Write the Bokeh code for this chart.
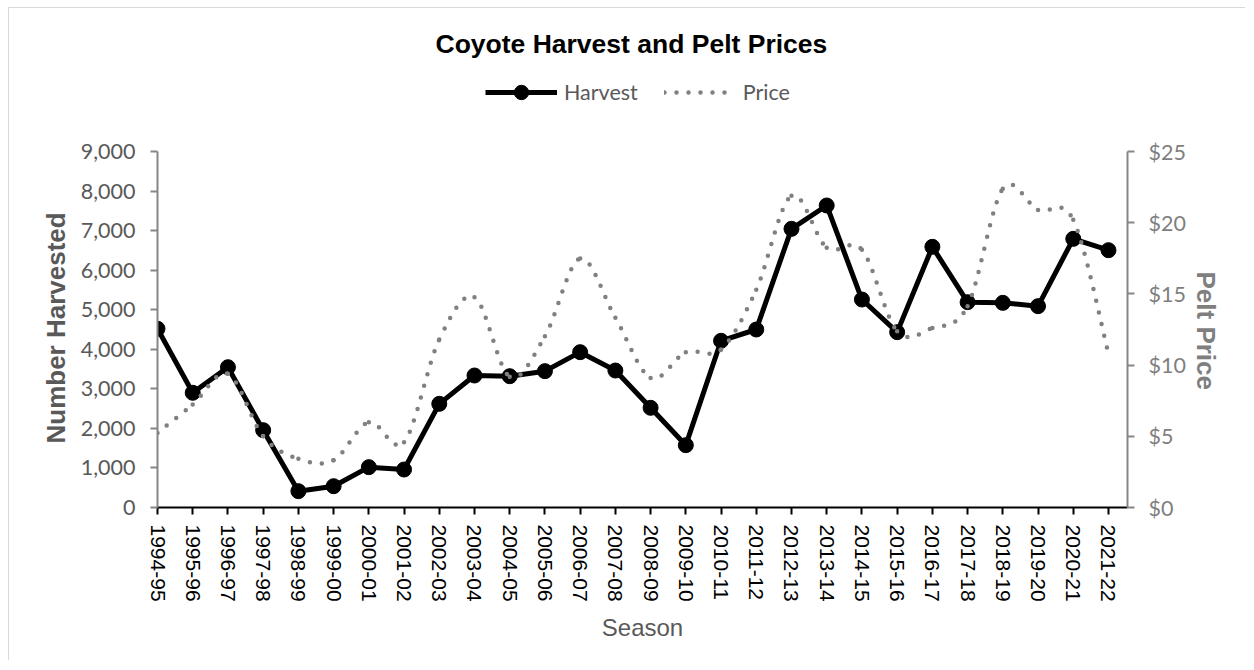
import numpy as np
from bokeh.plotting import figure
from bokeh.models import (LinearAxis, Range1d, FixedTicker, NumeralTickFormatter,
                          Legend, LegendItem, Title)
from bokeh.embed import file_html
from bokeh.resources import INLINE

seasons = ["1994-95", "1995-96", "1996-97", "1997-98", "1998-99", "1999-00", "2000-01",
           "2001-02", "2002-03", "2003-04", "2004-05", "2005-06", "2006-07", "2007-08",
           "2008-09", "2009-10", "2010-11", "2011-12", "2012-13", "2013-14", "2014-15",
           "2015-16", "2016-17", "2017-18", "2018-19", "2019-20", "2020-21", "2021-22"]
harvest = [4520, 2900, 3547, 1955, 413, 539, 1020, 960, 2621, 3337, 3320, 3447, 3927, 3463,
           2520, 1576, 4214, 4500, 7045, 7635, 5258, 4433, 6590, 5191, 5174, 5090, 6792, 6505]
price = [5.24, 7.23, 9.39, 5.0, 3.42, 3.32, 5.99, 4.59, 11.8, 14.77, 9.18, 12.03, 17.49, 13.32,
         9.1, 10.9, 11.1, 15.3, 21.9, 18.24, 18.1, 12.38, 12.6, 14.14, 22.38, 20.9, 20.2, 10.8]
harvest_ticks = [0, 1000, 2000, 3000, 4000, 5000, 6000, 7000, 8000, 9000]
price_ticks = [0, 5, 10, 15, 20, 25]
HARVEST_MAX = 9000
PRICE_MAX = 25

xs = list(range(len(seasons)))

# smoothed line geometry (Catmull-Rom style bezier segments through the data points)
n = len(price)
bx0, by0, bx1, by1, bcx0, bcy0, bcx1, bcy1 = [], [], [], [], [], [], [], []
for i in range(n - 1):
    pm = i - 1 if i > 0 else i
    pp = i + 2 if i + 2 < n else i + 1
    bx0.append(xs[i]); by0.append(price[i])
    bx1.append(xs[i + 1]); by1.append(price[i + 1])
    bcx0.append(xs[i] + (xs[i + 1] - xs[pm]) / 6.0)
    bcy0.append(price[i] + (price[i + 1] - price[pm]) / 6.0)
    bcx1.append(xs[i + 1] - (xs[pp] - xs[i]) / 6.0)
    bcy1.append(price[i + 1] - (price[pp] - price[i]) / 6.0)

# layout: the frame reaches above the axes' top so that the legend (inside the frame)
# sits above the plotted area; axes are bounded to the data ranges.
W, H = 1237, 653
FRAME_TOP, AXIS_TOP, FRAME_BOTTOM = 68, 143, 499
scale = (FRAME_BOTTOM - FRAME_TOP) / (FRAME_BOTTOM - AXIS_TOP)

p = figure(width=W, height=H, x_range=Range1d(0, 27.54),
           y_range=Range1d(0, HARVEST_MAX * scale),
           output_backend="svg", toolbar_location=None,
           min_border_left=148, min_border_right=119, min_border_top=FRAME_TOP,
           min_border_bottom=H - FRAME_BOTTOM)
p.extra_y_ranges = {"price": Range1d(0, PRICE_MAX * scale)}
p.styles = {"margin-left": "8px", "margin-top": "7px",
            "border-top": "1px solid #d9d9d9", "border-left": "1px solid #d9d9d9"}
p.xgrid.visible = False
p.ygrid.visible = False
p.outline_line_color = None
p.background_fill_color = "white"
p.border_fill_color = "white"

# title
p.title.text = "Coyote Harvest and Pelt Prices"
p.title.align = "left"
p.title.offset = 278
p.title.standoff = 35
p.title.text_font = "Liberation Sans"
p.title.text_font_style = "bold"
p.title.text_font_size = "26.5px"
p.title.text_color = "black"

# x axis
xa = p.xaxis[0]
xa.ticker = FixedTicker(ticks=xs)
xa.major_label_overrides = {i: s for i, s in enumerate(seasons)}
xa.major_label_orientation = "vertical"
xa.major_label_text_font = "Liberation Sans"
xa.major_label_text_font_size = "21px"
xa.major_label_text_color = "black"
xa.major_label_standoff = 10
xa.axis_line_color = "black"
xa.axis_line_width = 2
xa.major_tick_line_color = "black"
xa.major_tick_line_width = 2
xa.major_tick_in = 0
xa.major_tick_out = 7
xa.minor_tick_line_color = None
xa.axis_label = "Season"
xa.axis_label_text_font = "Liberation Sans"
xa.axis_label_text_font_style = "normal"
xa.axis_label_text_font_size = "24px"
xa.axis_label_text_color = "#595959"
xa.axis_label_standoff = 9

# left axis
ya = p.yaxis[0]
ya.bounds = (0, HARVEST_MAX)
ya.ticker = FixedTicker(ticks=harvest_ticks)
ya.formatter = NumeralTickFormatter(format="0,0")
ya.major_label_text_font = "Lato"
ya.major_label_text_font_size = "21.5px"
ya.major_label_text_color = "#595959"
ya.major_label_standoff = 15
ya.axis_line_color = "#868686"
ya.axis_line_width = 2
ya.major_tick_line_color = "#868686"
ya.major_tick_line_width = 2
ya.major_tick_in = 0
ya.major_tick_out = 7
ya.minor_tick_line_color = None

# right axis
ra = LinearAxis(y_range_name="price", ticker=FixedTicker(ticks=price_ticks),
                formatter=NumeralTickFormatter(format="$0"), bounds=(0, PRICE_MAX))
ra.major_label_text_font = "Lato"
ra.major_label_text_font_size = "21.5px"
ra.major_label_text_color = "#7f7f7f"
ra.major_label_standoff = 14
ra.axis_line_color = "#868686"
ra.axis_line_width = 2
ra.major_tick_line_color = "#868686"
ra.major_tick_line_width = 2
ra.major_tick_in = 0
ra.major_tick_out = 7
ra.minor_tick_line_color = None
p.add_layout(ra, "right")

# axis titles, centred on the bounded axes
left_title = Title(text="Number Harvested", align="left", offset=64, standoff=13,
                   text_font="Liberation Sans", text_font_style="bold",
                   text_font_size="26px", text_color="#595959")
p.add_layout(left_title, "left")
right_title = Title(text="Pelt Price", align="left", offset=195, standoff=5,
                    text_font="Liberation Sans", text_font_style="bold",
                    text_font_size="26px", text_color="#7f7f7f")
p.add_layout(right_title, "right")

# harvest series
hl = p.line(xs, harvest, line_color="black", line_width=5, line_join="round")
hm = p.scatter(xs, harvest, size=15, marker="circle", fill_color="black", line_color="black")

# price series (smoothed, dotted)
pl = p.bezier(x0=bx0, y0=by0, x1=bx1, y1=by1, cx0=bcx0, cy0=bcy0, cx1=bcx1, cy1=bcy1,
              y_range_name="price", line_color="#808080", line_width=4.5,
              line_dash="0 12", line_cap="round")

legend = Legend(items=[LegendItem(label="Harvest", renderers=[hl, hm]),
                       LegendItem(label="Price", renderers=[pl])],
                orientation="horizontal", location=(328, 397))
legend.glyph_width = 72
legend.glyph_height = 36
legend.label_height = 36
legend.label_standoff = 7
legend.spacing = 26
legend.padding = 0
legend.margin = 0
legend.border_line_color = None
legend.background_fill_alpha = 0
legend.label_text_font = "Lato"
legend.label_text_font_size = "21.5px"
legend.label_text_color = "#595959"
p.add_layout(legend, "center")

open("out.html", "w").write(file_html(p, INLINE))
